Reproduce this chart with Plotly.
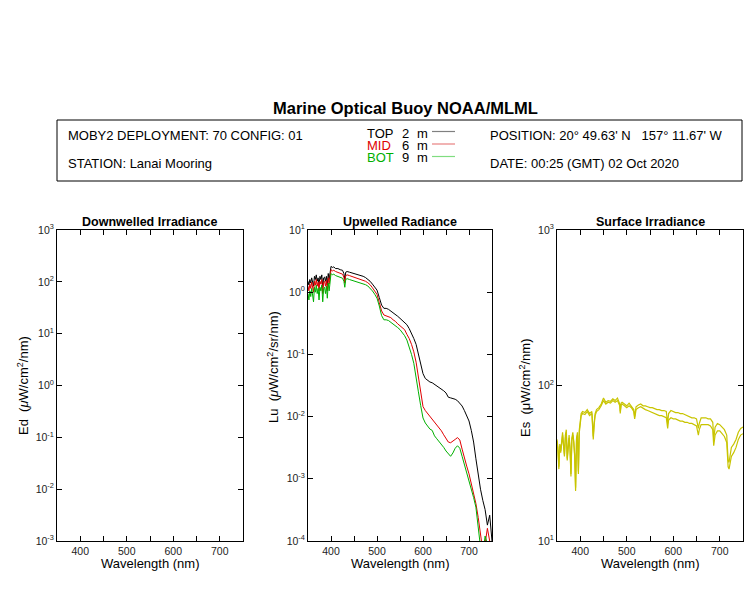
import plotly.graph_objects as go

W, H = 750, 600
FONT = "Liberation Sans, Arial, Helvetica, sans-serif"

# ---------------- data ----------------
lu_wl = [350, 352, 354, 356, 358, 360, 362, 364, 366, 368,
         370, 372, 374, 376, 378, 380, 382, 384, 386, 388,
         390, 392, 394, 396, 398,
         400, 403, 406, 410,
         415, 420, 425,
         428, 430, 432,
         435, 440, 445, 450, 455, 460, 465, 470, 475, 480,
         485, 490, 495, 500, 505, 510, 515, 520, 525, 530,
         535, 540, 545, 550, 555, 560, 565, 570, 575, 580,
         585, 590, 595, 600, 605, 610, 615, 620, 625, 630,
         635, 640, 645, 650, 655, 660, 665, 670, 675, 680,
         685, 690, 695, 700, 705, 710, 715, 720, 725, 730,
         735, 740, 745, 750]

lu_top = [1.5, 1.3, 1.6, 1.4, 1.7, 1.5, 1.25, 1.8, 1.6, 1.9,
          1.5, 1.7, 1.3, 1.8, 1.6, 1.9, 1.2, 1.7, 1.75, 1.5,
          1.8, 1.3, 2.0, 1.6, 2.2,
          2.6, 2.5, 2.55, 2.4,
          2.4, 2.3, 2.25,
          2.0, 1.6, 2.1,
          2.15, 2.1, 2.05, 2.0, 1.95, 1.9, 1.85, 1.8, 1.72, 1.62,
          1.5, 1.35, 1.2, 1.08, 0.82, 0.62, 0.55, 0.55, 0.53, 0.5,
          0.47, 0.44, 0.41, 0.38, 0.35, 0.33, 0.3, 0.26, 0.22, 0.18,
          0.145, 0.1, 0.07, 0.049, 0.041, 0.038, 0.036, 0.035, 0.033, 0.032,
          0.03, 0.028, 0.026, 0.024, 0.0205, 0.020, 0.0195, 0.019, 0.018, 0.0165,
          0.0148, 0.0125, 0.0105, 0.0085, 0.006, 0.0039, 0.0021, 0.0011, 0.00068, 0.00045,
          0.00032, 0.00018, 0.00026, 0.0001]

lu_mid = [1.25, 1.05, 1.35, 1.15, 1.45, 1.25, 1.0, 1.5, 1.3, 1.6,
          1.25, 1.45, 1.05, 1.5, 1.35, 1.6, 0.95, 1.45, 1.5, 1.25,
          1.55, 1.05, 1.7, 1.35, 1.9,
          2.3, 2.2, 2.25, 2.15,
          2.1, 2.0, 1.95,
          1.75, 1.4, 1.85,
          1.9, 1.85, 1.8, 1.75, 1.7, 1.66, 1.62, 1.57, 1.5, 1.42,
          1.32, 1.18, 1.05, 0.92, 0.68, 0.5, 0.43, 0.42, 0.41, 0.39,
          0.36, 0.34, 0.31, 0.29, 0.27, 0.25, 0.21, 0.18, 0.145, 0.11,
          0.075, 0.045, 0.025, 0.0145, 0.0125, 0.0112, 0.0103, 0.0093, 0.0082, 0.0073,
          0.0065, 0.0059, 0.0051, 0.0044, 0.0039, 0.0038, 0.0040, 0.0043, 0.0046, 0.0042,
          0.003, 0.0021, 0.0016, 0.0012, 0.00085, 0.00058, 0.0004, 0.00024, 0.00011, 0.00007,
          0.00009, 0.00016, 0.0001, 0.00008]

lu_bot = [0.95, 0.75, 1.05, 0.85, 1.15, 0.95, 0.7, 1.2, 1.0, 1.3,
          0.95, 1.15, 0.75, 1.2, 1.05, 1.3, 0.7, 1.15, 1.2, 0.95,
          1.25, 0.8, 1.4, 1.05, 1.6,
          2.0, 1.9, 1.95, 1.85,
          1.8, 1.72, 1.68,
          1.5, 1.2, 1.6,
          1.65, 1.6, 1.56, 1.52, 1.48, 1.45, 1.41, 1.37, 1.32, 1.26,
          1.17, 1.05, 0.93, 0.8, 0.6, 0.42, 0.36, 0.36, 0.35, 0.33,
          0.31, 0.29, 0.27, 0.25, 0.225, 0.2, 0.17, 0.135, 0.1, 0.072,
          0.045, 0.025, 0.015, 0.0095, 0.0079, 0.0071, 0.0063, 0.006, 0.0049, 0.0044,
          0.004, 0.0036, 0.0032, 0.0028, 0.0025, 0.0023, 0.0026, 0.0031, 0.0034, 0.0031,
          0.0023, 0.0017, 0.0013, 0.00095, 0.0007, 0.0005, 0.00035, 0.00017, 0.00008, 0.00006,
          0.00012, 0.00009, 0.00006, 0.00005]

es_wl = [350, 352, 354, 356, 358, 360, 362, 364, 366, 368,
         370, 372, 374, 376, 378, 380, 382, 384, 386, 388,
         390, 392, 394, 396, 398, 400, 402, 405, 410, 415,
         420, 425, 428, 430, 432, 435, 440, 445, 450, 455,
         460, 465, 470, 475, 480, 485, 486, 488, 490, 495,
         500, 505, 510, 515, 517, 520, 525, 530, 535, 540,
         545, 550, 555, 560, 565, 570, 575, 580, 585, 588,
         590, 595, 600, 605, 610, 615, 620, 625, 630, 635,
         640, 645, 650, 654, 656, 660, 665, 670, 675, 680,
         685, 687, 690, 695, 700, 705, 710, 715, 718, 720,
         722, 725, 730, 735, 740, 745, 750]

es_a = [45, 40, 30, 42, 38, 44, 50, 42, 36, 48,
        52, 34, 44, 48, 40, 27, 46, 50, 44, 36,
        22, 46, 50, 28, 52, 63, 66, 68, 67, 70,
        66, 68, 47, 58, 66, 70, 72, 76, 83, 78,
        80, 79, 82, 80, 83, 76, 68, 77, 78, 76,
        74, 77, 74, 70, 63, 73, 75, 76, 74, 74,
        73, 72, 72, 71, 70, 70, 69, 69, 68, 57,
        66, 69, 68, 67, 67, 66, 66, 65, 64, 63,
        62, 62, 61, 53, 57, 62, 62, 62, 61, 61,
        58, 45, 54, 57, 56, 54, 52, 48, 33, 32,
        35, 40, 42, 45, 50, 53, 54]

es_b = [44, 38, 29, 41, 37, 43, 48, 41, 35, 46,
        50, 33, 43, 46, 39, 26, 45, 48, 43, 35,
        21, 45, 48, 27, 50, 61, 64, 66, 65, 68,
        64, 66, 45, 56, 64, 68, 70, 74, 80, 76,
        78, 77, 80, 78, 80, 74, 66, 75, 76, 74,
        72, 74, 72, 68, 61, 70, 72, 73, 71, 70,
        69, 68, 67, 66, 65, 64, 64, 63, 62, 53,
        60, 62, 61, 61, 60, 59, 59, 58, 58, 57,
        57, 56, 55, 48, 52, 56, 56, 56, 56, 55,
        52, 41, 48, 51, 51, 49, 47, 43, 30, 29,
        32, 35, 37, 40, 45, 48, 49]

depth_labels = ["TOP", "MID", "BOT"]
depth_values = ["2", "6", "9"]
depth_colors = ["black", "#e00000", "#00b000"]
legend_line_colors = ["#808080", "#e88080", "#80dd80"]

x_ticks = [400, 500, 600, 700]
x_minor = [450, 550, 650]


def sup_labels(lo, hi):
    return [10.0 ** k for k in range(lo, hi + 1)], ["10<sup>%d</sup>" % k for k in range(lo, hi + 1)]


def px(x):
    return x / W


def py(y):
    return 1 - y / H


# ---------------- figure ----------------
fig = go.Figure()

fig.add_trace(go.Scatter(x=[], y=[], xaxis="x", yaxis="y", showlegend=False, hoverinfo="skip"))

for vals, col in zip([lu_top, lu_mid, lu_bot], depth_colors):
    fig.add_trace(go.Scatter(x=lu_wl, y=vals, mode="lines", xaxis="x2", yaxis="y2",
                             line=dict(color=col, width=1), showlegend=False))

for vals in [es_a, es_b]:
    fig.add_trace(go.Scatter(x=es_wl, y=vals, mode="lines", xaxis="x3", yaxis="y3",
                             line=dict(color="#c8c400", width=1.2), showlegend=False))

panels = [(57, 243, -3, 3), (308, 492, -4, 1), (557, 743, 1, 3)]
top_px, bot_px = 230, 541

layout = dict(
    width=W, height=H,
    margin=dict(l=0, r=0, t=0, b=0, pad=0, autoexpand=False),
    paper_bgcolor="white", plot_bgcolor="white",
    font=dict(family=FONT, size=13, color="black"),
    showlegend=False,
)

for i, (x0, x1, ylo, yhi) in enumerate(panels):
    sx = "" if i == 0 else str(i + 1)
    tv, tt = sup_labels(ylo, yhi)
    layout["xaxis" + sx] = dict(
        domain=[px(x0), px(x1)], anchor="y" + sx, range=[350, 750],
        tickvals=x_ticks, ticks="inside", ticklen=5, tickcolor="black",
        showline=True, linecolor="black", linewidth=1, mirror="ticks",
        showgrid=False, zeroline=False, automargin=False,
        tickfont=dict(size=10.5, color="#222"),
        minor=dict(tickvals=x_minor, ticks="inside", ticklen=5, tickcolor="black", showgrid=False),
    )
    layout["yaxis" + sx] = dict(
        domain=[py(bot_px), py(top_px)], anchor="x" + sx, type="log", range=[ylo, yhi],
        tickvals=tv, ticktext=tt, ticks="inside", ticklen=5, tickcolor="black",
        showline=True, linecolor="black", linewidth=1, mirror="ticks",
        showgrid=False, zeroline=False, automargin=False,
        tickfont=dict(size=10.5, color="#222"),
    )

fig.update_layout(**layout)

ann = []
# main title
ann.append(dict(text="<b>Marine Optical Buoy NOAA/MLML</b>", x=px(405), y=py(108),
                xanchor="center", yanchor="middle", font=dict(size=16.5)))
# header texts
ann.append(dict(text="MOBY2 DEPLOYMENT: 70 CONFIG: 01", x=px(66), y=py(135), xanchor="left", yanchor="middle"))
ann.append(dict(text="STATION: Lanai Mooring", x=px(66), y=py(163), xanchor="left", yanchor="middle"))
ann.append(dict(text="POSITION: 20\u00b0 49.63' N\u00a0\u00a0\u00a0157\u00b0 11.67' W", x=px(488), y=py(135),
                xanchor="left", yanchor="middle"))
ann.append(dict(text="DATE: 00:25 (GMT) 02 Oct 2020", x=px(488), y=py(163), xanchor="left", yanchor="middle"))

legend_y = [133, 145.5, 158]
shapes = [dict(type="rect", xref="paper", yref="paper", x0=px(57), x1=px(742), y0=py(181), y1=py(120),
               line=dict(color="black", width=1))]
for lab, val, col, lcol, yy in zip(depth_labels, depth_values, depth_colors, legend_line_colors, legend_y):
    ann.append(dict(text=lab, x=px(365), y=py(yy), xanchor="left", yanchor="middle",
                    font=dict(color=col if lab != "TOP" else "black")))
    ann.append(dict(text=val, x=px(400), y=py(yy), xanchor="left", yanchor="middle"))
    ann.append(dict(text="m", x=px(415), y=py(yy), xanchor="left", yanchor="middle"))
    shapes.append(dict(type="line", xref="paper", yref="paper", x0=px(432), x1=px(455),
                       y0=py(yy - 1.5), y1=py(yy - 1.5), line=dict(color=lcol, width=1.2)))

# panel titles
for (x0, x1, _, _), t in zip(panels, ["Downwelled Irradiance", "Upwelled Radiance", "Surface Irradiance"]):
    ann.append(dict(text="<b>%s</b>" % t, x=px((x0 + x1) / 2), y=py(222), xanchor="center", yanchor="middle",
                    font=dict(size=12.5)))
    ann.append(dict(text="Wavelength (nm)", x=px((x0 + x1) / 2), y=py(563), xanchor="center", yanchor="middle"))

# y titles
ytitles = [("Ed\u00a0\u00a0(<i>\u03bc</i>W/cm<sup>2</sup>/nm)", 23, 386),
           ("Lu\u00a0\u00a0(<i>\u03bc</i>W/cm<sup>2</sup>/sr/nm)", 273, 367),
           ("Es\u00a0\u00a0(\u03bcW/cm<sup>2</sup>/nm)", 525, 388)]
for t, xx, yy in ytitles:
    ann.append(dict(text=t, x=px(xx), y=py(yy), xanchor="center", yanchor="middle", textangle=-90))

for a in ann:
    a.setdefault("xref", "paper")
    a.setdefault("yref", "paper")
    a.setdefault("showarrow", False)

fig.update_layout(annotations=ann, shapes=shapes)
fig.write_html("out.html", config={"displayModeBar": False},
               post_script="document.body.style.margin='0px';document.body.style.overflow='hidden';")
